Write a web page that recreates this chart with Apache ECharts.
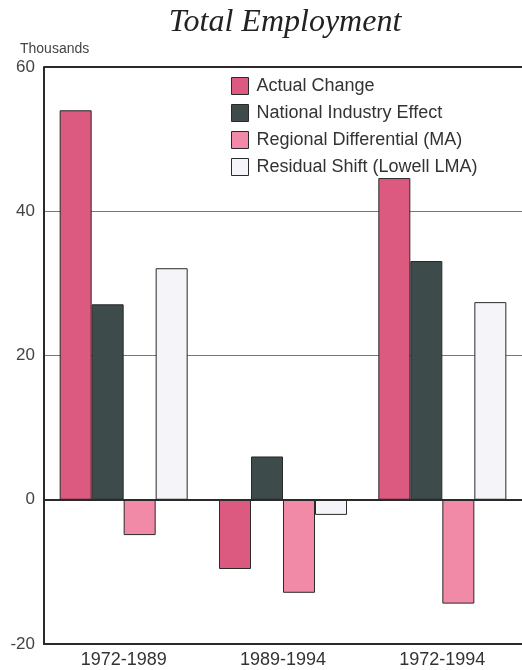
<!DOCTYPE html>
<html>
<head>
<meta charset="utf-8">
<script src="https://cdn.jsdelivr.net/npm/echarts@6/dist/echarts.min.js"></script>
<style>
  html, body { margin: 0; padding: 0; background: #fff; }
  #chart { width: 522px; height: 670px; }
</style>
</head>
<body>
<div id="chart"></div>
<script>
// data
var periods = ['1972-1989', '1989-1994', '1972-1994'];
var seriesNames = ['Actual Change', 'National Industry Effect', 'Regional Differential (MA)', 'Residual Shift (Lowell LMA)'];
var actualChange = [54, -9.6, 44.6];
var nationalEffect = [27.1, 6, 33.1];
var regionalDiff = [-4.9, -12.9, -14.4];
var residualShift = [32.1, -2.1, 27.4];
var yTicks = [-20, 0, 20, 40, 60];

var colors = ['#dc5a7f', '#3d4b4b', '#f08aa6', '#f5f4f8'];

var chart = echarts.init(document.getElementById('chart'));

function barSeries(name, data, idx) {
	return {
		name: name,
		type: 'bar',
		data: data,
		barWidth: 32,
		barGap: '0%',
		itemStyle: {
			color: colors[idx],
			borderColor: '#2a2a2a',
			borderWidth: 1
		}
	};
}

var series = [
	barSeries(seriesNames[0], actualChange, 0),
	barSeries(seriesNames[1], nationalEffect, 1),
	barSeries(seriesNames[2], regionalDiff, 2),
	barSeries(seriesNames[3], residualShift, 3)
];

// zero line and top line
series[0].markLine = {
	silent: true,
	symbol: 'none',
	label: { show: false },
	lineStyle: { color: '#2a2a2a', width: 2, type: 'solid' },
	data: [{ yAxis: 0 }, { yAxis: 60 }]
};

chart.setOption({
	animation: false,
	textStyle: { fontFamily: 'Liberation Sans, Arial, sans-serif' },
	title: {
		text: 'Total Employment',
		left: 280,
		textAlign: 'center',
		top: 2,
		textStyle: {
			fontFamily: 'Liberation Serif, DejaVu Serif, serif',
			fontStyle: 'italic',
			fontWeight: 'normal',
			fontSize: 32,
			color: '#222'
		}
	},
	graphic: [{
		type: 'text',
		left: 20,
		top: 42,
		style: { text: 'Thousands', fontSize: 14, fill: '#444', fontFamily: 'Liberation Sans, Arial, sans-serif' }
	}],
	legend: {
		orient: 'vertical',
		left: 226,
		top: 72,
		itemWidth: 17,
		itemHeight: 17,
		itemGap: 9,
		icon: 'rect',
		data: seriesNames,
		itemStyle: { borderColor: '#2a2a2a', borderWidth: 1 },
		textStyle: { fontSize: 18, color: '#333', padding: [0, 0, 0, 3] }
	},
	grid: {
		left: 44,
		top: 67,
		width: 480,
		height: 577,
		containLabel: false
	},
	xAxis: {
		type: 'category',
		data: periods,
		axisLine: { onZero: false, lineStyle: { color: '#2a2a2a', width: 2 } },
		axisTick: { alignWithLabel: true, inside: true, length: 8, lineStyle: { color: '#2a2a2a', width: 1 } },
		axisLabel: { fontSize: 18, color: '#333', margin: 7 }
	},
	yAxis: {
		type: 'value',
		min: yTicks[0],
		max: yTicks[yTicks.length - 1],
		interval: 20,
		axisLine: { show: true, lineStyle: { color: '#2a2a2a', width: 2 } },
		axisTick: { show: false },
		axisLabel: { fontSize: 17, color: '#444', margin: 9 },
		splitLine: { show: true, lineStyle: { color: '#777', width: 1 } }
	},
	series: series
});
</script>
</body>
</html>
